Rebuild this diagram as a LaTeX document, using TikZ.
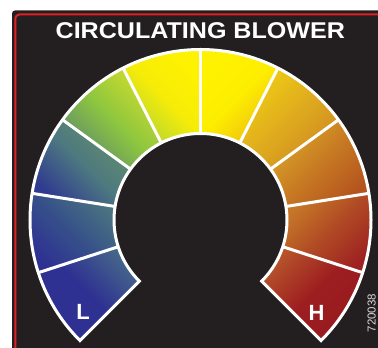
\documentclass[tikz,border=0pt]{standalone}
\usepackage{fontspec}
\setmainfont{Liberation Sans}
\definecolor{panelbg}{HTML}{231F20}
\definecolor{panelred}{HTML}{E31E24}
\definecolor{codegray}{HTML}{D8D8D8}
\definecolor{sAt}{HTML}{B5532A}\definecolor{sAm}{HTML}{9E1E20}\definecolor{sAb}{HTML}{961A1F}
\definecolor{sBt}{HTML}{C67828}\definecolor{sBm}{HTML}{B04A24}\definecolor{sBb}{HTML}{9E2222}
\definecolor{sCt}{HTML}{DBA528}\definecolor{sCm}{HTML}{C77A22}\definecolor{sCb}{HTML}{B4541F}
\definecolor{sDt}{HTML}{EFCC14}\definecolor{sDm}{HTML}{DFAB1E}\definecolor{sDb}{HTML}{CF8A22}
\definecolor{sEt}{HTML}{FFF200}\definecolor{sEm}{HTML}{FDEE00}\definecolor{sEb}{HTML}{EFBF10}
\definecolor{sFt}{HTML}{FFF200}\definecolor{sFm}{HTML}{F5EC08}\definecolor{sFb}{HTML}{B4D435}
\definecolor{sGt}{HTML}{CFDC2C}\definecolor{sGm}{HTML}{8DC63F}\definecolor{sGb}{HTML}{5E8A6C}
\definecolor{sHt}{HTML}{64906A}\definecolor{sHm}{HTML}{4D7880}\definecolor{sHb}{HTML}{2F3A90}
\definecolor{sIt}{HTML}{4A7480}\definecolor{sIm}{HTML}{36508A}\definecolor{sIb}{HTML}{2E3192}
\definecolor{sJt}{HTML}{45668A}\definecolor{sJm}{HTML}{2E3192}\definecolor{sJb}{HTML}{2E3192}
\begin{document}
\begin{tikzpicture}[x=1pt,y=1pt,line join=miter,
  ringline/.style={draw=white,line width=3pt},
  bigtitle/.style={text=white,font=\fontsize{22.8}{24}\selectfont\bfseries,inner sep=0pt},
  endlabel/.style={text=white,font=\fontsize{22}{24}\selectfont\bfseries,inner sep=0pt},
  codelabel/.style={text=codegray,font=\fontsize{11.5}{12}\selectfont,inner sep=0pt}]
\def\gRo{170.5pt}
\def\gRi{86.5pt}
\newcommand\gaugeseg[3]{%
  \shade[top color=#2t,bottom color=#2b,middle color=#2m,shading angle=#3]
    ([shift={(C)}]{#1}:\gRo) arc[start angle=#1,delta angle=27,radius=\gRo]
    -- ([shift={(C)}]{#1+27}:\gRi) arc[start angle=#1+27,delta angle=-27,radius=\gRi] -- cycle;}
\useasboundingbox (0,0) rectangle (378,348);
\fill[white] (0,0) rectangle (378,348);
\fill[panelbg,rounded corners=3pt] (12,-10) rectangle (390,337.5);
\draw[panelred,line width=2pt,rounded corners=4pt] (15.3,-10) -- (15.3,333.5) -- (390,333.5);
\coordinate (C) at (200.5,128);
% segments (right half: top=upper-left; left half: top=upper-right)
\gaugeseg{-45}{sA}{45}
\gaugeseg{-18}{sB}{45}
\gaugeseg{9}{sC}{45}
\gaugeseg{36}{sD}{45}
\gaugeseg{63}{sE}{45}
\gaugeseg{90}{sF}{-45}
\gaugeseg{117}{sG}{-45}
\gaugeseg{144}{sH}{-45}
\gaugeseg{171}{sI}{-45}
\gaugeseg{198}{sJ}{-45}
% outline and separators
\draw[ringline] ([shift={(C)}]-45:\gRo) arc[start angle=-45,end angle=225,radius=\gRo]
  -- ([shift={(C)}]225:\gRi) arc[start angle=225,end angle=-45,radius=\gRi] -- cycle;
\foreach \a in {-18,9,...,198}
  \draw[ringline] ([shift={(C)}]\a:\gRi) -- ([shift={(C)}]\a:\gRo);
% texts
\node[bigtitle,anchor=base] (title) at (200.3,309.7) {\scalebox{1.1}[1]{CIRCULATING BLOWER}};
\node[endlabel,anchor=base] (low) at (83,28) {L};
\node[endlabel,anchor=base] (high) at (316.5,27.5) {H};
\node[codelabel,rotate=90] (code) at (371.7,35) {720038};
\end{tikzpicture}
\end{document}
